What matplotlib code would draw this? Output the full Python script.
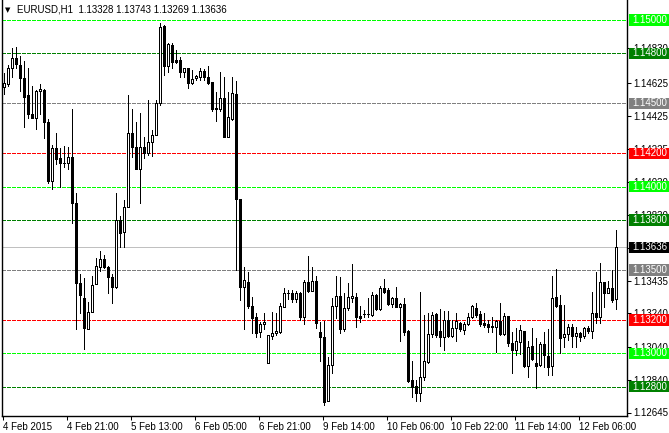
import matplotlib
matplotlib.use("Agg")
import matplotlib.pyplot as plt
import matplotlib.transforms as mtransforms
from matplotlib.patches import Rectangle
import numpy as np

plt.rcParams['font.family'] = ['Liberation Sans', 'DejaVu Sans']

# EURUSD H1 candles (open, high, low, close)
opens = [1.14600, 1.14614, 1.14710, 1.14770, 1.14730, 1.14650, 1.14550, 1.14434, 1.14410, 1.14574,
         1.14580, 1.14390, 1.14036, 1.14230, 1.14170, 1.14140, 1.14140, 1.14176, 1.13900, 1.13420,
         1.13330, 1.13144, 1.13246, 1.13414, 1.13520, 1.13564, 1.13516, 1.13456, 1.13400, 1.13800,
         1.13726, 1.13876, 1.14320, 1.14236, 1.14104, 1.14236, 1.14200, 1.14266, 1.14310, 1.14500,
         1.14964, 1.14726, 1.14850, 1.14760, 1.14760, 1.14690, 1.14710, 1.14620, 1.14650, 1.14660,
         1.14694, 1.14660, 1.14630, 1.14474, 1.14464, 1.14530, 1.14300, 1.14406, 1.14556, 1.13926,
         1.13396, 1.13426, 1.13284, 1.13216, 1.13130, 1.13174, 1.12944, 1.13106, 1.13120, 1.13130,
         1.13280, 1.13360, 1.13360, 1.13326, 1.13364, 1.13220, 1.13426, 1.13376, 1.13434, 1.13126,
         1.13096, 1.12716, 1.12930, 1.13286, 1.13344, 1.13144, 1.13270, 1.13334, 1.13336, 1.13224,
         1.13236, 1.13236, 1.13230, 1.13348, 1.13268, 1.13390, 1.13380, 1.13296, 1.13330, 1.13280,
         1.13294, 1.13134, 1.12840, 1.12804, 1.12764, 1.12860, 1.12950, 1.13114, 1.13236, 1.13134,
         1.13100, 1.13200, 1.13104, 1.13150, 1.13184, 1.13140, 1.13174, 1.13216, 1.13270, 1.13234,
         1.13180, 1.13174, 1.13166, 1.13160, 1.13194, 1.13114, 1.13224, 1.13060, 1.13020, 1.13070,
         1.13134, 1.12924, 1.13044, 1.12940, 1.12930, 1.13056, 1.12984, 1.12924, 1.13336, 1.13290,
         1.13096, 1.13114, 1.13156, 1.13106, 1.13120, 1.13106, 1.13154, 1.13134, 1.13240, 1.13220,
         1.13426, 1.13364, 1.13394, 1.13328]
highs = [1.14684, 1.14730, 1.14830, 1.14836, 1.14784, 1.14756, 1.14710, 1.14604, 1.14580, 1.14614,
         1.14586, 1.14404, 1.14250, 1.14320, 1.14234, 1.14244, 1.14240, 1.14464, 1.13960, 1.13474,
         1.13454, 1.13310, 1.13464, 1.13574, 1.13616, 1.13590, 1.13524, 1.13476, 1.13960, 1.13824,
         1.13920, 1.14550, 1.14464, 1.14390, 1.14440, 1.14300, 1.14520, 1.14340, 1.14520, 1.14980,
         1.14970, 1.14864, 1.14860, 1.14820, 1.14776, 1.14710, 1.14710, 1.14700, 1.14670, 1.14714,
         1.14704, 1.14724, 1.14630, 1.14570, 1.14686, 1.14656, 1.14570, 1.14656, 1.14636, 1.13926,
         1.13516, 1.13486, 1.13336, 1.13240, 1.13190, 1.13240, 1.13110, 1.13246, 1.13240, 1.13300,
         1.13390, 1.13380, 1.13380, 1.13376, 1.13370, 1.13440, 1.13584, 1.13516, 1.13464, 1.13190,
         1.13196, 1.12980, 1.13334, 1.13464, 1.13460, 1.13364, 1.13424, 1.13536, 1.13364, 1.13284,
         1.13260, 1.13330, 1.13366, 1.13354, 1.13404, 1.13444, 1.13390, 1.13340, 1.13400, 1.13300,
         1.13334, 1.13140, 1.12954, 1.12840, 1.13370, 1.13230, 1.13240, 1.13250, 1.13240, 1.13264,
         1.13256, 1.13256, 1.13200, 1.13244, 1.13190, 1.13190, 1.13240, 1.13290, 1.13300, 1.13256,
         1.13240, 1.13200, 1.13220, 1.13200, 1.13300, 1.13240, 1.13224, 1.13130, 1.13150, 1.13170,
         1.13134, 1.13074, 1.13150, 1.13090, 1.13070, 1.13130, 1.13144, 1.13464, 1.13504, 1.13350,
         1.13290, 1.13176, 1.13176, 1.13156, 1.13130, 1.13160, 1.13166, 1.13370, 1.13490, 1.13540,
         1.13430, 1.13436, 1.13500, 1.13743]
lows = [1.14556, 1.14606, 1.14656, 1.14710, 1.14576, 1.14360, 1.14410, 1.14410, 1.14344, 1.14436,
        1.14290, 1.14020, 1.13984, 1.14136, 1.14000, 1.14120, 1.14104, 1.13780, 1.13144, 1.13240,
        1.13024, 1.13144, 1.13246, 1.13414, 1.13496, 1.13510, 1.13360, 1.13304, 1.13390, 1.13636,
        1.13636, 1.13876, 1.14176, 1.14104, 1.13900, 1.14170, 1.14190, 1.14184, 1.14310, 1.14490,
        1.14670, 1.14690, 1.14710, 1.14744, 1.14660, 1.14656, 1.14594, 1.14616, 1.14640, 1.14640,
        1.14640, 1.14616, 1.14456, 1.14396, 1.14456, 1.14300, 1.14300, 1.14400, 1.13500, 1.13320,
        1.13144, 1.13270, 1.13124, 1.13100, 1.13100, 1.13144, 1.12940, 1.13084, 1.13110, 1.13124,
        1.13276, 1.13324, 1.13310, 1.13310, 1.13200, 1.13174, 1.13370, 1.13374, 1.13150, 1.12956,
        1.12690, 1.12716, 1.12880, 1.13210, 1.13120, 1.13136, 1.13260, 1.13310, 1.13160, 1.13190,
        1.13220, 1.13220, 1.13224, 1.13260, 1.13260, 1.13360, 1.13290, 1.13280, 1.13276, 1.13076,
        1.13110, 1.12830, 1.12740, 1.12716, 1.12716, 1.12840, 1.12944, 1.13100, 1.13100, 1.13044,
        1.13020, 1.13100, 1.13100, 1.13076, 1.13136, 1.13116, 1.13170, 1.13210, 1.13220, 1.13164,
        1.13160, 1.13130, 1.13130, 1.13010, 1.13110, 1.13110, 1.13044, 1.12880, 1.12990, 1.12996,
        1.12920, 1.12860, 1.12960, 1.12790, 1.12926, 1.12920, 1.12870, 1.12870, 1.13280, 1.13004,
        1.13040, 1.13080, 1.13040, 1.13040, 1.13076, 1.13090, 1.13120, 1.13090, 1.13180, 1.13180,
        1.13280, 1.13360, 1.13310, 1.13269]
closes = [1.14620, 1.14710, 1.14770, 1.14734, 1.14650, 1.14540, 1.14434, 1.14414, 1.14574, 1.14586,
          1.14386, 1.14036, 1.14230, 1.14164, 1.14140, 1.14142, 1.14176, 1.13900, 1.13420, 1.13348,
          1.13150, 1.13250, 1.13410, 1.13526, 1.13564, 1.13516, 1.13456, 1.13396, 1.13800, 1.13720,
          1.13876, 1.14320, 1.14236, 1.14104, 1.14236, 1.14200, 1.14270, 1.14310, 1.14500, 1.14960,
          1.14726, 1.14854, 1.14750, 1.14750, 1.14690, 1.14710, 1.14620, 1.14644, 1.14664, 1.14694,
          1.14660, 1.14620, 1.14466, 1.14464, 1.14530, 1.14300, 1.14416, 1.14560, 1.13926, 1.13400,
          1.13440, 1.13284, 1.13210, 1.13124, 1.13174, 1.13188, 1.13110, 1.13120, 1.13134, 1.13284,
          1.13360, 1.13362, 1.13326, 1.13364, 1.13220, 1.13426, 1.13376, 1.13434, 1.13180, 1.13096,
          1.12710, 1.12930, 1.13286, 1.13344, 1.13144, 1.13270, 1.13336, 1.13344, 1.13220, 1.13210,
          1.13238, 1.13238, 1.13348, 1.13264, 1.13390, 1.13370, 1.13296, 1.13330, 1.13280, 1.13294,
          1.13130, 1.12836, 1.12800, 1.12764, 1.12860, 1.12954, 1.13114, 1.13230, 1.13110, 1.13100,
          1.13200, 1.13104, 1.13154, 1.13194, 1.13144, 1.13176, 1.13216, 1.13284, 1.13230, 1.13174,
          1.13170, 1.13160, 1.13156, 1.13194, 1.13114, 1.13224, 1.13060, 1.13020, 1.13074, 1.13140,
          1.12924, 1.13036, 1.12964, 1.12926, 1.13056, 1.12990, 1.12916, 1.13330, 1.13284, 1.13094,
          1.13114, 1.13156, 1.13106, 1.13120, 1.13100, 1.13150, 1.13136, 1.13240, 1.13216, 1.13426,
          1.13360, 1.13394, 1.13320, 1.13636]

# time axis labels every 16 bars
time_labels = ['4 Feb 2015', '4 Feb 21:00', '5 Feb 13:00', '6 Feb 05:00', '6 Feb 21:00',
               '9 Feb 14:00', '10 Feb 06:00', '10 Feb 22:00', '11 Feb 14:00', '12 Feb 06:00']
label_bars = [0, 16, 32, 48, 64, 80, 96, 112, 128, 144]

# horizontal levels and their colours
levels = [1.15000, 1.14800, 1.14500, 1.14200, 1.14000, 1.13800, 1.13500, 1.13200, 1.13000, 1.12800]
level_colors = ['#00FF00', '#008000', '#808080', '#FF0000', '#00FF00', '#008000',
                '#808080', '#FF0000', '#00FF00', '#008000']
bid_price = 1.13636

# price scale ticks on the right
price_ticks = [1.14830, 1.14625, 1.14425, 1.14225, 1.14030, 1.13830, 1.13635,
               1.13435, 1.13240, 1.13040, 1.12840, 1.12645]

W, H = 669, 433
fig = plt.figure(figsize=(W / 100, H / 100), dpi=100)
fig.patch.set_facecolor('white')
ax = fig.add_axes([2.3 / W, 17 / H, (627 - 2.3) / W, 416 / H])
ax.set_facecolor('white')

x = np.arange(len(opens))
o = np.array(opens)
c = np.array(closes)

# level lines (crisp, 1px, no antialiasing like the terminal)
for lv, col in zip(levels, level_colors):
    ax.axhline(lv, color=col, linewidth=0.72, dashes=(4, 2), antialiased=False, zorder=1)
ax.axhline(bid_price, color='#C0C0C0', linewidth=0.72, antialiased=False, zorder=1)

# candles
ax.vlines(x, lows, highs, color='black', linewidth=0.72, antialiased=False, zorder=3)
bull = c >= o
body_bottom = np.minimum(o, c)
body_height = np.abs(c - o)
ax.bar(x[bull], body_height[bull], bottom=body_bottom[bull], width=0.5,
       color='white', edgecolor='black', linewidth=0.72, antialiased=False, zorder=4)
ax.bar(x[~bull], body_height[~bull], bottom=body_bottom[~bull], width=0.5,
       color='black', edgecolor='black', linewidth=0.72, antialiased=False, zorder=4)

ax.set_xlim(-0.35, 155.8)
ax.set_ylim(1.12624, 1.1512)

# axes frame
ax.spines['top'].set_visible(False)
for s in ['left', 'bottom', 'right']:
    ax.spines[s].set_color('black')
    ax.spines[s].set_linewidth(1.0)

# x ticks
ax.set_xticks([b - 0.25 for b in label_bars])
ax.set_xticklabels(time_labels, fontsize=7, ha='left')
ax.tick_params(axis='x', length=3, width=0.75, pad=1.5, colors='black')

# y ticks on the right
ax.yaxis.tick_right()
ax.set_yticks(price_ticks)
ax.set_yticklabels([f'{p:.5f}' for p in price_ticks], fontsize=7)
ax.tick_params(axis='y', length=3, width=0.75, pad=1.5, colors='black')

# coloured price boxes on the scale
blend = mtransforms.blended_transform_factory(fig.transFigure, ax.transData)
box_levels = levels + [bid_price]
box_colors = level_colors + ['#000000']
half_h = 0.00034
for lv, col in zip(box_levels, box_colors):
    fig.add_artist(Rectangle((629 / W, lv - half_h), 40 / W, 2 * half_h,
                             transform=blend, facecolor=col, edgecolor='none', zorder=5))
    fig.text(632 / W, lv, f'{lv:.5f}', transform=blend, color='white', fontsize=7,
             va='center', ha='left', zorder=6)

# chart header
fig.text(5 / W, 1 - 10 / H, '\u25bc', fontsize=5, va='center', ha='left',
         family='DejaVu Sans')
fig.text(17 / W, 1 - 10 / H, 'EURUSD,H1  1.13328 1.13743 1.13269 1.13636',
         fontsize=7, va='center', ha='left')

fig.savefig('out.png', dpi=100)
